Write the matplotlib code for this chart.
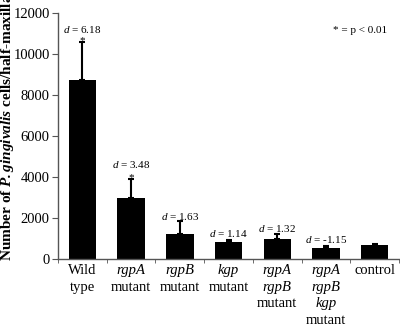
import matplotlib
matplotlib.use("Agg")
import matplotlib.pyplot as plt
import matplotlib.transforms as mtransforms

category_lines = [["Wild", "type"], ["rgpA", "mutant"], ["rgpB", "mutant"], ["kgp", "mutant"],
                  ["rgpA", "rgpB", "mutant"], ["rgpA", "rgpB", "kgp", "mutant"], ["control"]]
italic_words = {"rgpA", "rgpB", "kgp"}
means = [8750, 2990, 1200, 820, 960, 520, 680]
errors = [1850, 920, 670, 90, 240, 130, 50]
d_values = ["6.18", "3.48", "1.63", "1.14", "1.32", "-1.15", None]
significant = [True, True, False, False, False, False, False]
yticks = [0, 2000, 4000, 6000, 8000, 10000, 12000]

plt.rcParams['font.family'] = ['Liberation Serif', 'DejaVu Serif']
plt.rcParams['mathtext.fontset'] = 'custom'
plt.rcParams['mathtext.rm'] = 'Liberation Serif'
plt.rcParams['mathtext.it'] = 'Liberation Serif:italic'
plt.rcParams['mathtext.bf'] = 'Liberation Serif:bold'
plt.rcParams['mathtext.bfit'] = 'Liberation Serif:bold:italic'

fig = plt.figure(figsize=(4.0, 3.24), dpi=100)
ax = fig.add_axes([0.145, 0.2006, 0.853, 0.7594])

x = list(range(len(category_lines)))
ax.bar(x, means, width=0.56, color='black', zorder=2)
ax.errorbar(x, means, yerr=[[0]*len(means), errors], fmt='none', ecolor='black',
            elinewidth=1.5, capsize=2.5, capthick=1.5, zorder=3)

ax.set_xlim(-0.5, 6.5)
ax.set_ylim(0, 12000)
ax.set_yticks(yticks)
ax.set_yticklabels([str(v) for v in yticks], fontsize=10.5)
ax.set_xticks(x)
ax.set_xticklabels([""] * len(x))
ax.set_xticks([i - 0.5 for i in range(len(category_lines) + 1)], minor=True)
ax.tick_params(axis='x', which='major', length=0)
ax.tick_params(axis='x', which='minor', length=3, direction='out', color='#555555')
ax.tick_params(axis='y', length=4, direction='out', color='#555555', pad=2)
for s in ['top', 'right']:
    ax.spines[s].set_visible(False)
for s in ['left', 'bottom']:
    ax.spines[s].set_color('#555555')
    ax.spines[s].set_linewidth(1.0)

# category labels, one text per line
blend = mtransforms.blended_transform_factory(ax.transData, ax.transAxes)
line_gap_px = 16.7
first_px = 11.5
for i, lines in enumerate(category_lines):
    for j, word in enumerate(lines):
        off = mtransforms.ScaledTranslation(0, -(first_px + line_gap_px * j) / 100.0, fig.dpi_scale_trans)
        ax.text(i, 0, word, transform=blend + off, ha='center', va='center', fontsize=10.5,
                style='italic' if word in italic_words else 'normal', clip_on=False)

ax.set_ylabel("Number of $\\mathbfit{P. gingivalis}$ cells/half-maxilla", fontsize=11,
              fontweight='bold')
ax.yaxis.set_label_coords(-0.124, 0.535)

d_offsets = [12, 14, 4, 6.5, 6, 6]
for i, (m, e, dv, sig) in enumerate(zip(means, errors, d_values, significant)):
    top = m + e
    if dv is not None:
        ax.annotate("$d$ = " + dv, xy=(i, top), xytext=(0, d_offsets[i] * 0.72),
                    textcoords='offset points', ha='center', va='center', fontsize=8)
    if sig:
        ax.annotate("*", xy=(i, top), xytext=(0, 1), textcoords='offset points',
                    ha='center', va='center', fontsize=8)

ax.text(0.965, 0.93, "* = p < 0.01", transform=ax.transAxes, ha='right', va='center', fontsize=8)

fig.savefig("out.png", dpi=100)
